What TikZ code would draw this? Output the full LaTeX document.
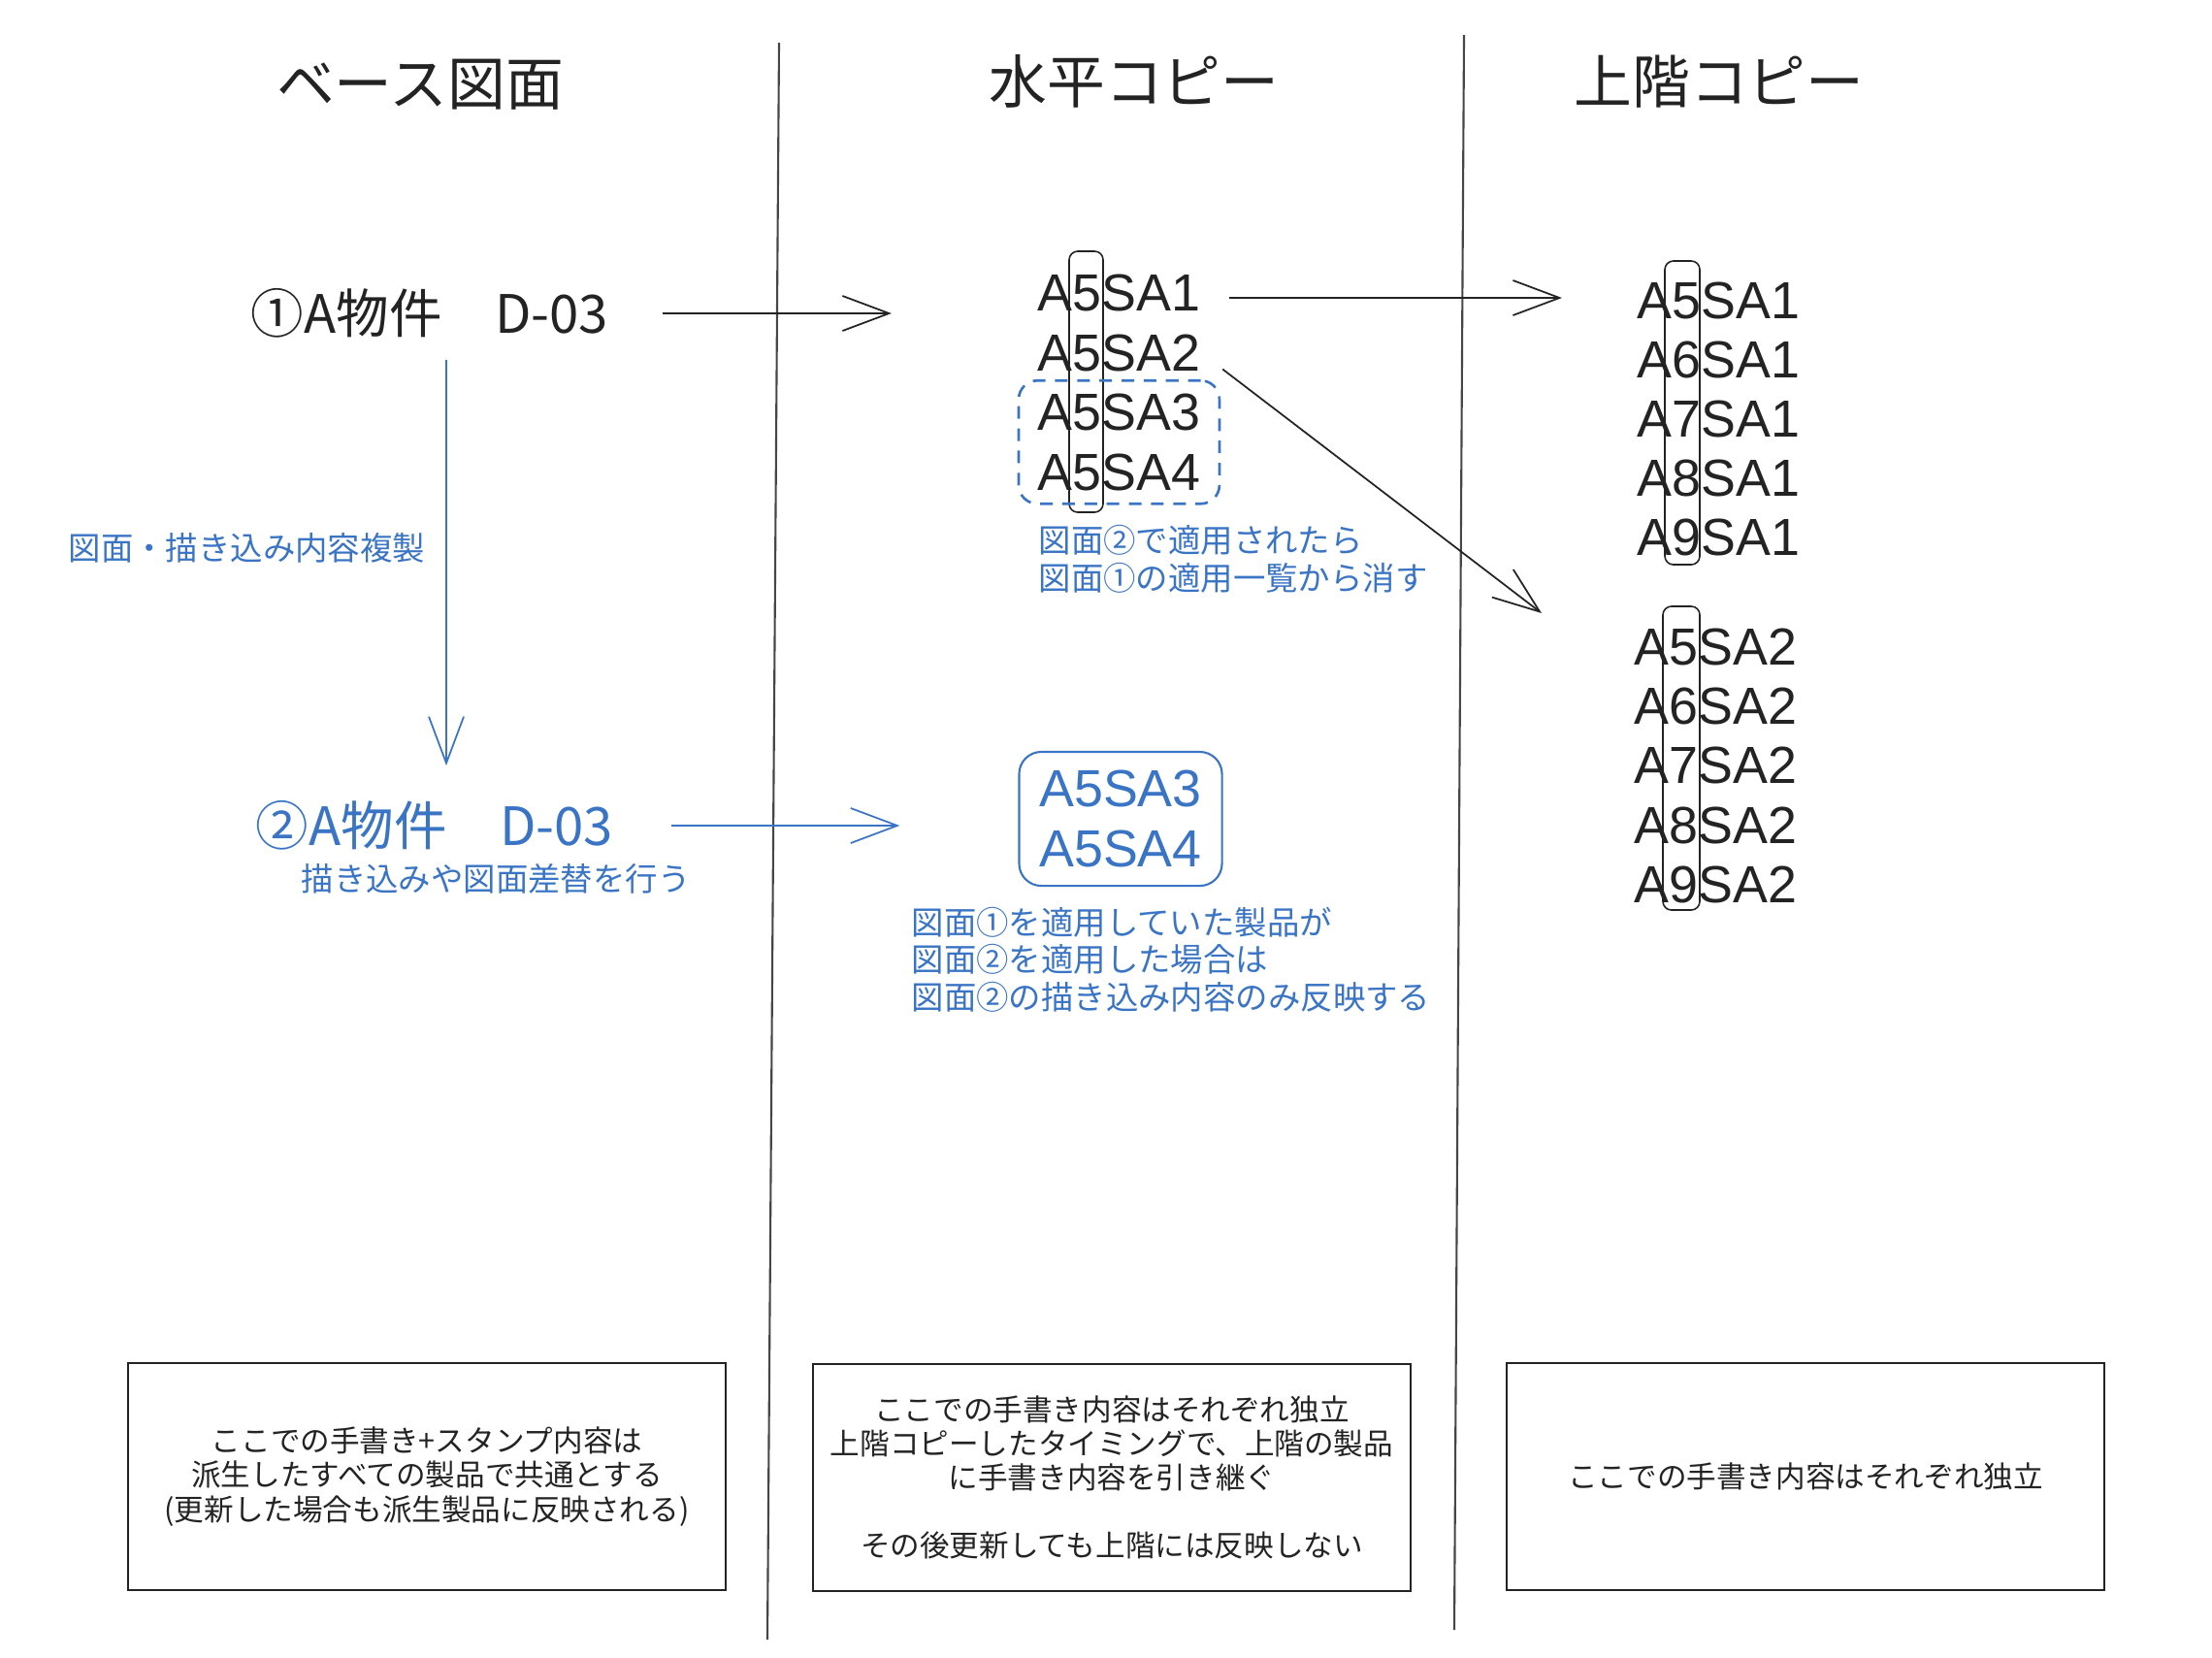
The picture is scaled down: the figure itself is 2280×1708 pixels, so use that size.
\documentclass[tikz,border=0pt]{standalone}
\usepackage{fontspec}
\setmainfont{Noto Sans CJK JP}
\newfontfamily\latinfont{Liberation Sans}
\usetikzlibrary{arrows.meta,positioning,fit,calc}
\definecolor{cBlue}{RGB}{58,116,196}
\definecolor{cDark}{RGB}{35,35,35}
\definecolor{cRule}{RGB}{70,70,70}
\tikzset{
  titlenode/.style={font=\fontsize{17}{20}\selectfont,text=cDark},
  mainnode/.style={font=\fontsize{15.5}{18}\selectfont,text=cDark},
  itemnode/.style={font=\latinfont\fontsize{15.3}{17.5}\selectfont,
                   inner sep=0pt,anchor=west,text=cDark},
  notenode/.style={font=\fontsize{9.5}{11}\selectfont,text=cBlue,
                   align=left,inner sep=0pt,anchor=west},
  infobox/.style={rectangle,draw=cDark,line width=0.5pt,align=center,
                  minimum width=6.16cm,minimum height=2.34cm,
                  font=\fontsize{8.7}{10}\selectfont,text=cDark},
  colbox/.style={draw=cDark,line width=0.45pt,rounded corners=2.5pt},
  dashbox/.style={draw=cBlue,line width=0.75pt,dash pattern=on 3.7pt off 2.8pt,
                  rounded corners=5.5pt},
  bluebox/.style={rectangle,rounded corners=6.5pt,draw=cBlue,line width=0.6pt,
                  text=cBlue,align=center,minimum width=2.09cm,
                  minimum height=1.38cm,
                  font=\latinfont\fontsize{15.3}{17.4}\selectfont},
  rulerline/.style={draw=cRule,line width=0.6pt},
  arr/.style={-{Straight Barb[length=4.8mm,width=3.6mm]},line width=0.5pt,
              color=cDark},
  bluarr/.style={arr,color=cBlue}
}
\begin{document}
\begin{tikzpicture}[x=0.01cm,y=-0.01cm]
  \useasboundingbox (0,0) rectangle (2280,1708);

  % column titles
  \node[titlenode] (tBase)  at (433,87)  {ベース図面};
  \node[titlenode] (tHoriz) at (1169,84) {水平コピー};
  \node[titlenode] (tUpper) at (1772,84) {上階コピー};

  % dividers
  \draw[rulerline] (803,44) -- (791,1690);
  \draw[rulerline] (1509,36) -- (1499,1680);

  % base drawing
  \node[mainnode] (base1) at (443,323) {①A物件　D-03};
  \node[mainnode,text=cBlue] (base2) at (448,851) {②A物件　D-03};
  \node[notenode] (edit) at (310,906) {描き込みや図面差替を行う};
  \draw[bluarr,shorten <=0.1cm,shorten >=0.24cm]
    ([xshift=0.17cm]base1.south) -- ([xshift=0.12cm]base2.north)
    node[pos=0.45,left=0.21cm,font=\fontsize{9.5}{11}\selectfont,
         text=cBlue,inner sep=0pt] (copyLbl) {図面・描き込み内容複製};

  % horizontal copies
  \foreach \i in {1,...,4}
    \node[itemnode] (m\i) at (1069,{302+61.5*(\i-1)}) {A5SA\i};
  \draw[colbox] (1102,259) rectangle (1137,528);
  \node[dashbox,fit=(m3)(m4),inner xsep=0.19cm,inner ysep=0.13cm] (gone) {};
  \node[notenode] (goneNote) at (1070,576)
    {図面②で適用されたら\\図面①の適用一覧から消す};

  \node[bluebox] (applied) at (1155,844) {A5SA3\\A5SA4};
  \node[notenode] (mixNote) at (939,989)
    {図面①を適用していた製品が\\図面②を適用した場合は\\図面②の描き込み内容のみ反映する};

  % upper floor copies
  \foreach \d [count=\i] in {5,...,9}
    \node[itemnode] (ra\i) at (1687,{310+61*(\i-1)}) {A\d SA1};
  \draw[colbox] (1716,269) rectangle (1752,582);
  \foreach \d [count=\i] in {5,...,9}
    \node[itemnode] (rb\i) at (1684,{667+61.2*(\i-1)}) {A\d SA2};
  \draw[colbox] (1714,625) rectangle (1752,938);
  \coordinate (rbIn) at (1589,632);

  % connectors
  \draw[arr,shorten <=0.43cm,shorten >=1.5cm] (base1.east) -- (base1.east -| m1.west);
  \draw[bluarr,shorten <=0.47cm,shorten >=1.22cm] (base2.east) -- (base2.east -| applied.west);
  \draw[arr,shorten <=0.29cm,shorten >=0.77cm] ([yshift=-0.05cm]m1.east) -- ([yshift=-0.05cm]m1.east -| ra1.west);
  \draw[arr,shorten <=0.28cm] (m2.east) -- (rbIn);

  % notes
  \node[infobox] (noteBase) at (440,1522)
    {ここでの手書き+スタンプ内容は\\派生したすべての製品で共通とする\\(更新した場合も派生製品に反映される)};
  \node[infobox] (noteHoriz) at (1146,1523)
    {ここでの手書き内容はそれぞれ独立\\上階コピーしたタイミングで、上階の製品\\に手書き内容を引き継ぐ\\[10pt]その後更新しても上階には反映しない};
  \node[infobox] (noteUpper) at (1861,1522) {ここでの手書き内容はそれぞれ独立};
\end{tikzpicture}
\end{document}
